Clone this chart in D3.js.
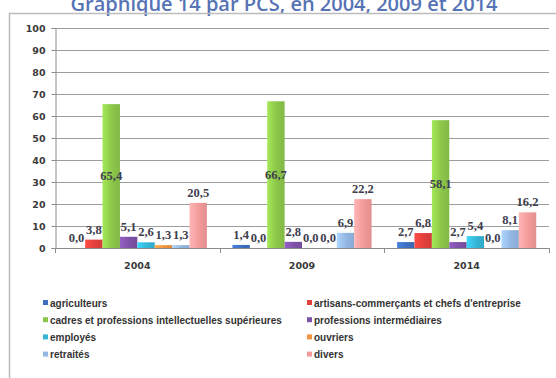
<!DOCTYPE html>
<html><head><meta charset="utf-8">
<script src="https://cdn.jsdelivr.net/npm/d3@7"></script>
<style>body{margin:0;background:#fff}svg{display:block}</style>
</head><body><div id="chart"></div>
<script>
const title = "Graphique 14 par PCS, en 2004, 2009 et 2014";
const years = ["2004", "2009", "2014"];
const series = ["agriculteurs", "artisans-commerçants et chefs d'entreprise",
  "cadres et professions intellectuelles supérieures", "professions intermédiaires",
  "employés", "ouvriers", "retraités", "divers"];
const colors = ["#3d6fc0", "#e2403b", "#8cc64a", "#7e52a8", "#35b6d6", "#ef9340", "#93b6e2", "#f39a9a"];
const v2004 = [0.0, 3.8, 65.4, 5.1, 2.6, 1.3, 1.3, 20.5];
const v2009 = [1.4, 0.0, 66.7, 2.8, 0.0, 0.0, 6.9, 22.2];
const v2014 = [2.7, 6.8, 58.1, 2.7, 5.4, 0.0, 8.1, 16.2];
const yTicks = [0, 10, 20, 30, 40, 50, 60, 70, 80, 90, 100];

const values = [v2004, v2009, v2014];
const W = 556, H = 378;
const svg = d3.select("#chart").append("svg").attr("width", W).attr("height", H);
svg.append("rect").attr("width", W).attr("height", H).attr("fill", "#fff");

const defs = svg.append("defs");
colors.forEach((c, i) => {
  const g = defs.append("linearGradient").attr("id", "g" + i).attr("x1", 0).attr("x2", 1).attr("y1", 0).attr("y2", 0);
  g.append("stop").attr("offset", "0%").attr("stop-color", d3.color(c).brighter(0.45));
  g.append("stop").attr("offset", "55%").attr("stop-color", c);
  g.append("stop").attr("offset", "100%").attr("stop-color", d3.color(c).darker(0.2));
});

// title (cut at top, as in the reference)
svg.append("text").attr("x", 284).attr("y", 10.5).attr("text-anchor", "middle")
  .attr("font-family", "Open Sans").attr("font-weight", 600).attr("font-size", 20)
  .attr("fill", "#5673b5").text(title);

// frame
svg.append("path").attr("d", `M9.5,${H} V13.5 H${W}`).attr("fill", "none")
  .attr("stroke", "#bcbcbc").attr("stroke-width", 1.5);

const x0 = d3.scaleBand().domain(years).range([55, 549]).paddingInner(0.155).paddingOuter(0.0775);
const x1 = d3.scaleBand().domain(d3.range(series.length)).range([0, x0.bandwidth()]);
const y = d3.scaleLinear().domain([0, 100]).range([248, 28]);

// gridlines
svg.append("g").selectAll("line").data(yTicks.filter(d => d > 0)).join("line")
  .attr("x1", 55).attr("x2", 549).attr("y1", d => Math.round(y(d)) + 0.5).attr("y2", d => Math.round(y(d)) + 0.5)
  .attr("stroke", "#9d9d9d").attr("stroke-width", 1);

// y axis
const yAx = svg.append("g").attr("transform", "translate(55.5,0)")
  .call(d3.axisLeft(y).tickValues(yTicks).tickSize(4).tickPadding(6).tickFormat(d3.format("d")));
yAx.select(".domain").attr("stroke", "#8c8c8c");
yAx.selectAll(".tick line").attr("stroke", "#8c8c8c");
yAx.selectAll("text").attr("font-family", "DejaVu Sans").attr("font-weight", "bold")
  .attr("font-size", 9.5).attr("fill", "#3a3a3a");

// bars
const groups = svg.append("g").selectAll("g").data(years).join("g")
  .attr("transform", d => `translate(${x0(d)},0)`);
groups.selectAll("rect").data((d, i) => values[i].map((v, j) => ({v, j}))).join("rect")
  .attr("x", d => x1(d.j)).attr("width", x1.bandwidth())
  .attr("y", d => y(d.v)).attr("height", d => y(0) - y(d.v))
  .attr("fill", d => `url(#g${d.j})`);

// x axis
const xAx = svg.append("g").attr("transform", "translate(0,248.5)")
  .call(d3.axisBottom(x0).tickSize(0).tickPadding(14));
xAx.select(".domain").attr("stroke", "#8c8c8c").attr("d", "M55,0H549");
xAx.selectAll("text").attr("font-family", "DejaVu Sans").attr("font-weight", "bold")
  .attr("font-size", 9.5).attr("fill", "#3a3a3a");
// boundary ticks
const bounds = [55, ...years.slice(1).map(d => x0(d) - x0.step() * x0.paddingInner() / 2), 549];
svg.append("g").selectAll("line").data(bounds).join("line")
  .attr("x1", d => Math.round(d) + 0.5).attr("x2", d => Math.round(d) + 0.5)
  .attr("y1", 248).attr("y2", 253).attr("stroke", "#8c8c8c");

// value labels
groups.selectAll("text.lab").data((d, i) => values[i].map((v, j) => ({v, j}))).join("text")
  .attr("class", "lab")
  .attr("x", d => x1(d.j) + x1.bandwidth() / 2)
  .attr("y", d => d.j === 2 ? y(d.v / 2) + 4 : y(d.v) - 6)
  .attr("text-anchor", "middle")
  .attr("font-family", "Liberation Serif").attr("font-size", 12.5).attr("font-weight", "bold")
  .attr("fill", "#3d3d4d")
  .text(d => d3.format(".1f")(d.v).replace(".", ","));

// legend
const leg = svg.append("g").selectAll("g").data(series).join("g")
  .attr("transform", (d, i) => `translate(${i % 2 === 0 ? 43 : 307},${303 + Math.floor(i / 2) * 17.2})`);
leg.append("rect").attr("x", 0).attr("y", -3).attr("width", 5).attr("height", 5)
  .attr("fill", (d, i) => colors[i]);
leg.append("text").attr("x", 7).attr("y", 3.5)
  .attr("font-family", "Liberation Sans").attr("font-weight", "bold").attr("font-size", 10)
  .attr("fill", "#333").text(d => d);
</script></body></html>
